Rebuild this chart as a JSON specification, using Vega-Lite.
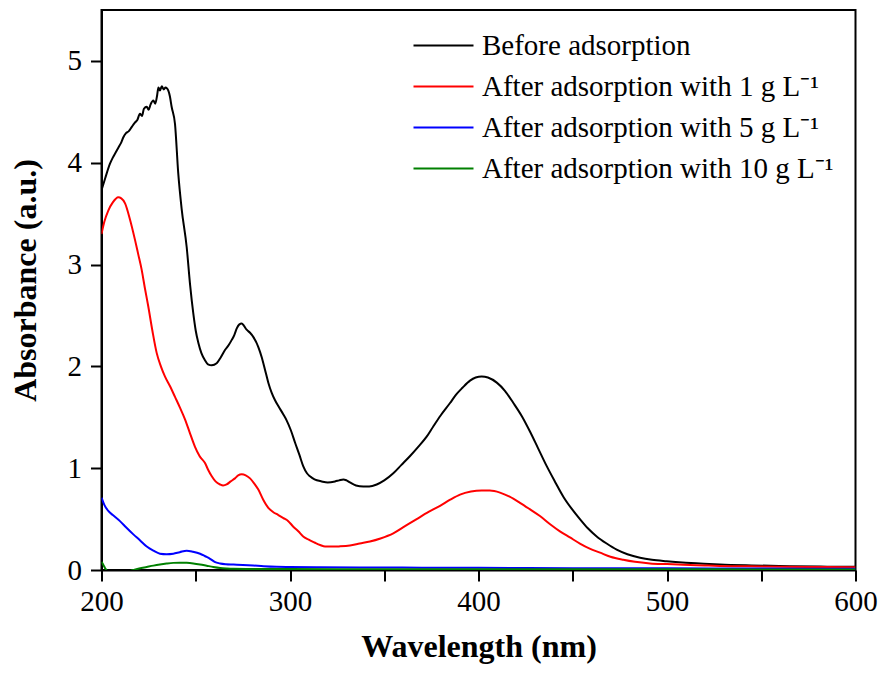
{
  "$schema": "https://vega.github.io/schema/vega-lite/v6.json",
  "autosize": "none",
  "padding": {"left": 101.5, "top": 10, "right": 27, "bottom": 103},
  "width": 754,
  "height": 560,
  "background": "white",
  "config": {
    "font": "Liberation Serif",
    "view": {"stroke": "black", "strokeWidth": 2},
    "axis": {
      "domainColor": "black", "domainWidth": 2, "tickColor": "black", "tickWidth": 2,
      "tickSize": 11, "labelFont": "Liberation Serif", "labelFontSize": 29, "labelColor": "black",
      "titleFont": "Liberation Serif", "titleFontSize": 32, "titleFontWeight": "bold", "titleColor": "black",
      "grid": false
    },
    "legend": {
      "labelFont": "Liberation Serif", "labelFontSize": 29, "labelColor": "black",
      "symbolType": "M-3,0H3", "symbolSize": 400, "symbolStrokeWidth": 2,
      "rowPadding": 11, "labelOffset": 24, "orient": "none", "legendX": 327.5, "legendY": 21,
      "labelLimit": 500
    }
  },
  "datasets": {
    "spectra": [
      {"wl":200,"A":3.73,"s":"before"},{"wl":202,"A":3.85,"s":"before"},{"wl":204.5,"A":3.99,"s":"before"},{"wl":206,"A":4.05,"s":"before"},{"wl":207.5,"A":4.10,"s":"before"},{"wl":209,"A":4.15,"s":"before"},{"wl":210.5,"A":4.20,"s":"before"},{"wl":211.6,"A":4.25,"s":"before"},{"wl":213,"A":4.29,"s":"before"},{"wl":214.5,"A":4.31,"s":"before"},{"wl":216,"A":4.35,"s":"before"},{"wl":217.5,"A":4.39,"s":"before"},{"wl":219,"A":4.42,"s":"before"},{"wl":220.4,"A":4.48,"s":"before"},{"wl":221.5,"A":4.46,"s":"before"},{"wl":222.5,"A":4.53,"s":"before"},{"wl":224,"A":4.55,"s":"before"},{"wl":225,"A":4.52,"s":"before"},{"wl":226,"A":4.57,"s":"before"},{"wl":227.5,"A":4.61,"s":"before"},{"wl":228.5,"A":4.58,"s":"before"},{"wl":229.5,"A":4.66,"s":"before"},{"wl":230.2,"A":4.74,"s":"before"},{"wl":231,"A":4.71,"s":"before"},{"wl":232,"A":4.75,"s":"before"},{"wl":233,"A":4.72,"s":"before"},{"wl":234,"A":4.74,"s":"before"},{"wl":235.4,"A":4.71,"s":"before"},{"wl":236.3,"A":4.65,"s":"before"},{"wl":237.2,"A":4.55,"s":"before"},{"wl":239,"A":4.38,"s":"before"},{"wl":240.7,"A":3.90,"s":"before"},{"wl":242.5,"A":3.55,"s":"before"},{"wl":245.2,"A":3.17,"s":"before"},{"wl":247,"A":2.80,"s":"before"},{"wl":248.7,"A":2.52,"s":"before"},{"wl":250,"A":2.35,"s":"before"},{"wl":251.4,"A":2.23,"s":"before"},{"wl":253,"A":2.13,"s":"before"},{"wl":254.9,"A":2.06,"s":"before"},{"wl":256.5,"A":2.02,"s":"before"},{"wl":258.5,"A":2.01,"s":"before"},{"wl":261.1,"A":2.03,"s":"before"},{"wl":263,"A":2.08,"s":"before"},{"wl":265.5,"A":2.16,"s":"before"},{"wl":267.5,"A":2.21,"s":"before"},{"wl":269.1,"A":2.26,"s":"before"},{"wl":270.5,"A":2.31,"s":"before"},{"wl":271.7,"A":2.37,"s":"before"},{"wl":273,"A":2.41,"s":"before"},{"wl":274.4,"A":2.42,"s":"before"},{"wl":275.5,"A":2.40,"s":"before"},{"wl":277,"A":2.36,"s":"before"},{"wl":278.8,"A":2.33,"s":"before"},{"wl":280.5,"A":2.29,"s":"before"},{"wl":283.2,"A":2.19,"s":"before"},{"wl":285,"A":2.09,"s":"before"},{"wl":286.7,"A":1.97,"s":"before"},{"wl":288.5,"A":1.84,"s":"before"},{"wl":290.3,"A":1.74,"s":"before"},{"wl":292,"A":1.67,"s":"before"},{"wl":293.8,"A":1.61,"s":"before"},{"wl":296.4,"A":1.53,"s":"before"},{"wl":298.2,"A":1.47,"s":"before"},{"wl":300.5,"A":1.37,"s":"before"},{"wl":302.7,"A":1.25,"s":"before"},{"wl":305,"A":1.13,"s":"before"},{"wl":307,"A":1.02,"s":"before"},{"wl":309,"A":0.95,"s":"before"},{"wl":310.6,"A":0.92,"s":"before"},{"wl":313,"A":0.89,"s":"before"},{"wl":316.8,"A":0.87,"s":"before"},{"wl":320,"A":0.86,"s":"before"},{"wl":323.9,"A":0.87,"s":"before"},{"wl":326,"A":0.88,"s":"before"},{"wl":328.3,"A":0.89,"s":"before"},{"wl":330,"A":0.88,"s":"before"},{"wl":331.8,"A":0.86,"s":"before"},{"wl":335,"A":0.83,"s":"before"},{"wl":338.9,"A":0.82,"s":"before"},{"wl":342,"A":0.82,"s":"before"},{"wl":346,"A":0.84,"s":"before"},{"wl":350,"A":0.88,"s":"before"},{"wl":354.8,"A":0.95,"s":"before"},{"wl":359,"A":1.03,"s":"before"},{"wl":363.7,"A":1.12,"s":"before"},{"wl":368,"A":1.21,"s":"before"},{"wl":372.5,"A":1.31,"s":"before"},{"wl":376,"A":1.41,"s":"before"},{"wl":380,"A":1.52,"s":"before"},{"wl":384.9,"A":1.64,"s":"before"},{"wl":388,"A":1.72,"s":"before"},{"wl":391.5,"A":1.79,"s":"before"},{"wl":395.5,"A":1.86,"s":"before"},{"wl":398.5,"A":1.89,"s":"before"},{"wl":401.7,"A":1.90,"s":"before"},{"wl":405,"A":1.89,"s":"before"},{"wl":409.7,"A":1.84,"s":"before"},{"wl":414,"A":1.76,"s":"before"},{"wl":418.5,"A":1.64,"s":"before"},{"wl":423,"A":1.51,"s":"before"},{"wl":427.3,"A":1.36,"s":"before"},{"wl":431.5,"A":1.20,"s":"before"},{"wl":436.2,"A":1.02,"s":"before"},{"wl":440.5,"A":0.87,"s":"before"},{"wl":445,"A":0.72,"s":"before"},{"wl":449.5,"A":0.60,"s":"before"},{"wl":453.8,"A":0.50,"s":"before"},{"wl":458,"A":0.41,"s":"before"},{"wl":462.7,"A":0.33,"s":"before"},{"wl":468,"A":0.26,"s":"before"},{"wl":473.3,"A":0.20,"s":"before"},{"wl":479,"A":0.155,"s":"before"},{"wl":485.7,"A":0.12,"s":"before"},{"wl":492,"A":0.10,"s":"before"},{"wl":499.8,"A":0.086,"s":"before"},{"wl":510,"A":0.072,"s":"before"},{"wl":517.5,"A":0.064,"s":"before"},{"wl":528,"A":0.054,"s":"before"},{"wl":545,"A":0.045,"s":"before"},{"wl":565,"A":0.038,"s":"before"},{"wl":585,"A":0.033,"s":"before"},{"wl":600,"A":0.031,"s":"before"},

      {"wl":200,"A":3.30,"s":"1"},{"wl":201.5,"A":3.42,"s":"1"},{"wl":203.6,"A":3.53,"s":"1"},{"wl":206,"A":3.61,"s":"1"},{"wl":208.9,"A":3.66,"s":"1"},{"wl":210.5,"A":3.65,"s":"1"},{"wl":212.5,"A":3.60,"s":"1"},{"wl":215,"A":3.45,"s":"1"},{"wl":217.8,"A":3.24,"s":"1"},{"wl":219.5,"A":3.10,"s":"1"},{"wl":221.3,"A":2.95,"s":"1"},{"wl":223,"A":2.77,"s":"1"},{"wl":224.8,"A":2.59,"s":"1"},{"wl":227,"A":2.35,"s":"1"},{"wl":229.3,"A":2.13,"s":"1"},{"wl":231.5,"A":2.00,"s":"1"},{"wl":233.7,"A":1.90,"s":"1"},{"wl":236.5,"A":1.80,"s":"1"},{"wl":239,"A":1.70,"s":"1"},{"wl":241.5,"A":1.60,"s":"1"},{"wl":244.3,"A":1.48,"s":"1"},{"wl":247,"A":1.34,"s":"1"},{"wl":249.6,"A":1.21,"s":"1"},{"wl":252,"A":1.12,"s":"1"},{"wl":254.9,"A":1.05,"s":"1"},{"wl":256.7,"A":0.98,"s":"1"},{"wl":258.5,"A":0.92,"s":"1"},{"wl":260.5,"A":0.87,"s":"1"},{"wl":262.9,"A":0.84,"s":"1"},{"wl":264.5,"A":0.83,"s":"1"},{"wl":266.4,"A":0.84,"s":"1"},{"wl":268.5,"A":0.87,"s":"1"},{"wl":270.8,"A":0.90,"s":"1"},{"wl":272.5,"A":0.93,"s":"1"},{"wl":274.4,"A":0.94,"s":"1"},{"wl":276.5,"A":0.93,"s":"1"},{"wl":278.8,"A":0.90,"s":"1"},{"wl":281,"A":0.85,"s":"1"},{"wl":283.2,"A":0.79,"s":"1"},{"wl":285.8,"A":0.69,"s":"1"},{"wl":288.5,"A":0.61,"s":"1"},{"wl":291,"A":0.57,"s":"1"},{"wl":293.8,"A":0.54,"s":"1"},{"wl":296.5,"A":0.51,"s":"1"},{"wl":299.1,"A":0.48,"s":"1"},{"wl":301.5,"A":0.43,"s":"1"},{"wl":304.4,"A":0.38,"s":"1"},{"wl":307,"A":0.33,"s":"1"},{"wl":309.7,"A":0.30,"s":"1"},{"wl":313,"A":0.27,"s":"1"},{"wl":316,"A":0.245,"s":"1"},{"wl":318.6,"A":0.23,"s":"1"},{"wl":321.2,"A":0.23,"s":"1"},{"wl":326,"A":0.232,"s":"1"},{"wl":331.8,"A":0.24,"s":"1"},{"wl":337,"A":0.26,"s":"1"},{"wl":342.4,"A":0.28,"s":"1"},{"wl":348,"A":0.31,"s":"1"},{"wl":354.8,"A":0.36,"s":"1"},{"wl":361,"A":0.43,"s":"1"},{"wl":367.2,"A":0.50,"s":"1"},{"wl":373.5,"A":0.57,"s":"1"},{"wl":379.6,"A":0.63,"s":"1"},{"wl":385,"A":0.69,"s":"1"},{"wl":390.2,"A":0.74,"s":"1"},{"wl":396,"A":0.77,"s":"1"},{"wl":401.7,"A":0.78,"s":"1"},{"wl":406,"A":0.78,"s":"1"},{"wl":411.4,"A":0.76,"s":"1"},{"wl":416.5,"A":0.72,"s":"1"},{"wl":422,"A":0.66,"s":"1"},{"wl":427,"A":0.60,"s":"1"},{"wl":432.6,"A":0.53,"s":"1"},{"wl":438,"A":0.45,"s":"1"},{"wl":443.2,"A":0.38,"s":"1"},{"wl":448.5,"A":0.32,"s":"1"},{"wl":453.8,"A":0.26,"s":"1"},{"wl":459,"A":0.21,"s":"1"},{"wl":464.5,"A":0.17,"s":"1"},{"wl":470,"A":0.13,"s":"1"},{"wl":476.8,"A":0.10,"s":"1"},{"wl":483,"A":0.08,"s":"1"},{"wl":491,"A":0.065,"s":"1"},{"wl":500,"A":0.058,"s":"1"},{"wl":508.6,"A":0.052,"s":"1"},{"wl":520,"A":0.045,"s":"1"},{"wl":528,"A":0.04,"s":"1"},{"wl":550,"A":0.035,"s":"1"},{"wl":575,"A":0.03,"s":"1"},{"wl":600,"A":0.027,"s":"1"},

      {"wl":200,"A":0.71,"s":"5"},{"wl":201.5,"A":0.64,"s":"5"},{"wl":203.6,"A":0.58,"s":"5"},{"wl":206,"A":0.54,"s":"5"},{"wl":209.8,"A":0.48,"s":"5"},{"wl":213,"A":0.42,"s":"5"},{"wl":216.9,"A":0.35,"s":"5"},{"wl":220.5,"A":0.29,"s":"5"},{"wl":224,"A":0.23,"s":"5"},{"wl":227.5,"A":0.19,"s":"5"},{"wl":231,"A":0.16,"s":"5"},{"wl":234.5,"A":0.155,"s":"5"},{"wl":238.1,"A":0.16,"s":"5"},{"wl":241.5,"A":0.175,"s":"5"},{"wl":245.2,"A":0.19,"s":"5"},{"wl":248.5,"A":0.18,"s":"5"},{"wl":252.3,"A":0.16,"s":"5"},{"wl":255,"A":0.135,"s":"5"},{"wl":257.6,"A":0.11,"s":"5"},{"wl":260,"A":0.08,"s":"5"},{"wl":262.9,"A":0.064,"s":"5"},{"wl":266,"A":0.057,"s":"5"},{"wl":270,"A":0.054,"s":"5"},{"wl":275,"A":0.05,"s":"5"},{"wl":280.5,"A":0.044,"s":"5"},{"wl":286,"A":0.037,"s":"5"},{"wl":292.9,"A":0.031,"s":"5"},{"wl":300,"A":0.029,"s":"5"},{"wl":315.9,"A":0.027,"s":"5"},{"wl":340,"A":0.025,"s":"5"},{"wl":370,"A":0.023,"s":"5"},{"wl":400,"A":0.021,"s":"5"},{"wl":450,"A":0.018,"s":"5"},{"wl":500,"A":0.016,"s":"5"},{"wl":550,"A":0.014,"s":"5"},{"wl":600,"A":0.013,"s":"5"},

      {"wl":200,"A":0.08,"s":"10"},{"wl":201,"A":0.05,"s":"10"},{"wl":202,"A":0.015,"s":"10"},{"wl":203.5,"A":-0.02,"s":"10"},{"wl":208,"A":-0.04,"s":"10"},{"wl":213,"A":-0.02,"s":"10"},{"wl":216.9,"A":0.0,"s":"10"},{"wl":220,"A":0.015,"s":"10"},{"wl":224,"A":0.03,"s":"10"},{"wl":227.5,"A":0.043,"s":"10"},{"wl":231,"A":0.054,"s":"10"},{"wl":234.5,"A":0.063,"s":"10"},{"wl":238.1,"A":0.07,"s":"10"},{"wl":241.5,"A":0.072,"s":"10"},{"wl":245.2,"A":0.07,"s":"10"},{"wl":248.7,"A":0.064,"s":"10"},{"wl":252.3,"A":0.054,"s":"10"},{"wl":255.8,"A":0.042,"s":"10"},{"wl":259.3,"A":0.03,"s":"10"},{"wl":263,"A":0.02,"s":"10"},{"wl":266.5,"A":0.015,"s":"10"},{"wl":270,"A":0.012,"s":"10"},{"wl":280,"A":0.01,"s":"10"},{"wl":300,"A":0.009,"s":"10"},{"wl":350,"A":0.008,"s":"10"},{"wl":400,"A":0.008,"s":"10"},{"wl":450,"A":0.007,"s":"10"},{"wl":500,"A":0.007,"s":"10"},{"wl":550,"A":0.006,"s":"10"},{"wl":600,"A":0.006,"s":"10"}
    ]
  },
  "data": {"name": "spectra"},
  "mark": {"type": "line", "strokeWidth": 2, "clip": true, "interpolate": "monotone"},
  "encoding": {
    "x": {
      "field": "wl", "type": "quantitative",
      "scale": {"domain": [200, 600], "nice": false, "zero": false},
      "axis": {
        "title": "Wavelength (nm)",
        "values": [200, 250, 300, 350, 400, 450, 500, 550, 600],
        "format": "d",
        "labelExpr": "datum.value % 100 === 0 ? datum.label : ''",
        "labelPadding": 6, "titlePadding": 15, "labelFlush": false, "labelOverlap": false,
        "encode": {"ticks": {"update": {"y2": {"signal": "datum.value % 100 === 0 ? 11 : 6"}}}}
      }
    },
    "y": {
      "field": "A", "type": "quantitative",
      "scale": {"domain": [0, 5.5], "nice": false},
      "axis": {
        "title": "Absorbance (a.u.)",
        "values": [0, 0.5, 1, 1.5, 2, 2.5, 3, 3.5, 4, 4.5, 5],
        "format": "d",
        "labelExpr": "datum.value % 1 === 0 ? datum.label : ''",
        "labelPadding": 9, "titlePadding": 25, "labelFlush": false, "labelOverlap": false,
        "titleY": 270,
        "encode": {"ticks": {"update": {"x2": {"signal": "datum.value % 1 === 0 ? -11 : -6"}}}}
      }
    },
    "color": {
      "field": "s", "type": "nominal",
      "scale": {"domain": ["before", "1", "5", "10"], "range": ["#000000", "#ff0000", "#0000ff", "#008000"]},
      "legend": {
        "title": null,
        "labelExpr": "datum.label === 'before' ? 'Before adsorption' : 'After adsorption with ' + datum.label + ' g L⁻¹'"
      }
    }
  }
}
